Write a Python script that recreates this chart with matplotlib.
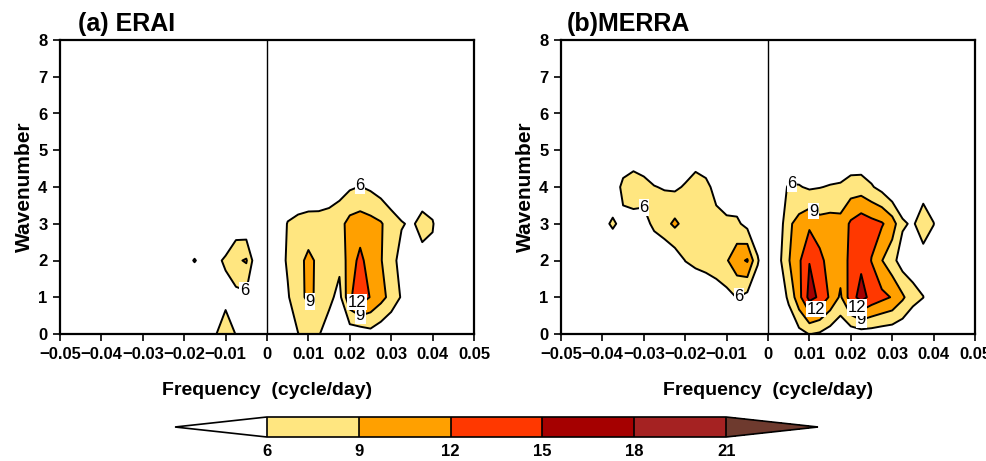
import numpy as np
import matplotlib
matplotlib.use("Agg")
import matplotlib.pyplot as plt
from matplotlib.colors import ListedColormap, BoundaryNorm
from matplotlib.ticker import FuncFormatter, MultipleLocator

plt.rcParams['font.family'] = ['Liberation Sans', 'DejaVu Sans']

# grid of the spectra: frequency (cycle/day) x zonal wavenumber 0..5
freq = np.linspace(-0.05, 0.05, 41)
wavenum = np.arange(6)

levels = [6, 9, 12, 15, 18, 21]
fill_colors = ['#ffe680', '#ffa000', '#ff3800', '#a50000', '#a52222']
under_color = 'white'
over_color = '#6e3a2e'

# ERAI power, one list per wavenumber
erai_w0 = [2, 2, 2, 2, 2, 2, 2, 2, 2, 2, 2, 2, 2.5, 3, 3, 5.8, 7.5, 5.9, 4, 3, 2.5,
           3, 4.5, 5.9, 7.5, 6.2, 4.5, 3.5, 4, 4, 5, 4, 3, 2.5, 2, 2, 2, 2, 2, 2, 2]
erai_w1 = [2.5, 2.5, 2.5, 2.5, 2.5, 2.5, 2.5, 2.5, 2.5, 2.5, 2.5, 2.5, 3, 3, 3.5, 4, 5.2, 5, 5.3, 3, 2.5,
           3.5, 5.6, 8.5, 9.3, 8.7, 6.8, 5.0, 11.5, 14, 11.8, 10, 8, 5.7, 4, 3.5, 3, 2.5, 2.5, 2.5, 2.5]
erai_w2 = [2.5, 2.5, 2.5, 2.5, 2.5, 2.5, 2.5, 2.5, 2.5, 2.5, 2.5, 2.5, 5.0, 6.15, 5.0, 5.5, 6.3, 8.5, 9.3, 3.6, 2.5,
           4, 6.5, 8.2, 9.6, 8.5, 7.0, 6.8, 10.5, 12.8, 10.5, 9.2, 7.0, 5.0, 4, 5.0, 5.0, 3, 2.5, 2.5, 2.5]
erai_w3 = [2.5, 2.5, 2.5, 2.5, 2.5, 2.5, 2.5, 2.5, 2.5, 2.5, 2.5, 2.5, 3, 3, 3, 3.5, 4, 4, 3.5, 3, 2.5,
           3.5, 6.2, 7, 7.5, 7.3, 7.5, 8, 10, 10.5, 10, 9.3, 7.5, 6.2, 5.6, 7.0, 6.3, 3, 2.5, 2.5, 2.5]
erai_w4 = [2.5, 2.5, 2.5, 2.5, 2.5, 2.5, 2.5, 2.5, 2.5, 2.5, 2.5, 2.5, 2.5, 2.5, 2.5, 2.5, 2.5, 2.5, 2.5, 2.5, 2.5,
           2.5, 3, 3, 3, 3.5, 4.0, 4.8, 5.6, 6.1, 5.5, 4.5, 3.5, 3.5, 3.5, 4.0, 3.5, 2.5, 2.5, 2.5, 2.5]
erai_w5 = [2.5, 2.5, 2.5, 2.5, 2.5, 2.5, 2.5, 2.5, 2.5, 2.5, 2.5, 2.5, 2.5, 2.5, 2.5, 2.5, 2.5, 2.5, 2.5, 2.5, 2.5,
           2.5, 2.5, 2.5, 2.5, 2.5, 2.5, 2.5, 2.5, 3, 2.5, 2.5, 2.5, 2.5, 2.5, 2.5, 2.5, 2.5, 2.5, 2.5, 2.5]

# MERRA power (panel b)
merra_w0 = [2.5, 2.5, 2.5, 2.5, 2.5, 2.5, 2.5, 2.5, 2.5, 2.5, 2.5, 2.5, 2.5, 2.5, 2.5, 2.5, 2.5, 3, 2.5, 2.5, 2.5,
            3, 4, 5, 6.1, 5.6, 4.5, 3.5, 4.0, 4.5, 4.5, 4.2, 4, 3.5, 3, 2.5, 2.5, 2.5, 2.5, 2.5, 2.5]
merra_w1 = [3, 3, 3, 3, 3, 3, 3, 3, 3, 3, 3, 3, 3.5, 3.8, 4.0, 4.8, 5.0, 6.1, 5.0, 4.0, 3,
            4, 6.5, 11.0, 16.0, 14.5, 11.5, 8.5, 13.6, 16.2, 14.0, 12.8, 11.8, 9.5, 7.0, 6.05, 3.5, 3, 3, 3, 3]
merra_w2 = [3, 3, 3, 3, 3, 3.5, 3.5, 3.5, 3.8, 4.0, 3.2, 4.1, 6.05, 6.6, 7.0, 7.2, 8.7, 11.0, 12.3, 6.3, 3.0,
            5.0, 8.8, 11.5, 14.9, 13.0, 10.5, 10.5, 12.7, 14.3, 11.9, 9.1, 7.0, 4.5, 4.5, 4.5, 3.5, 3, 3, 3, 3]
merra_w3 = [3, 3, 3, 3, 5.2, 6.4, 5.2, 5.0, 5.2, 6.5, 8.0, 9.6, 8.0, 7.8, 7.5, 7.0, 6.6, 6.6, 5.0, 4.0, 3.0,
            4.0, 8.5, 10.0, 11.4, 10.0, 10.2, 10.0, 12.5, 13.8, 13.0, 12.3, 10.5, 6.4, 5.6, 7.8, 6.1, 3, 3, 3, 3]
merra_w4 = [3, 3, 3, 3, 3, 4.0, 6.8, 7.5, 7.0, 6.1, 5.8, 5.5, 6.3, 7.4, 6.8, 5.0, 4.0, 3.5, 3.0, 3.0, 3.0,
            4.5, 6.3, 6.2, 5.6, 5.9, 6.2, 6.4, 7.4, 7.5, 6.3, 5.0, 3.0, 3.5, 4.0, 4.5, 3.5, 3, 3, 3, 3]
merra_w5 = [3.5, 3.5, 3.5, 3.5, 3.5, 3.5, 3.5, 4.0, 3.5, 3.5, 3.5, 3.5, 3.5, 4.0, 3.5, 3.5, 3.5, 3.5, 3.5, 3.5, 3,
            3, 3, 3, 3, 3, 3, 3, 3, 3, 3, 3, 3, 3, 3, 3, 3, 3, 3, 3, 3]

# contour label anchors: (level, freq, wavenumber)
erai_labels = [(6, 0.0222, 4.05), (6, -0.0062, 1.1), (9, 0.0112, 0.85),
               (9, 0.0228, 0.45), (12, 0.0225, 0.9)]
merra_labels = [(6, -0.028, 3.5), (6, -0.0062, 0.95), (6, 0.0058, 4.1), (9, 0.0112, 3.35),
                (9, 0.0228, 0.35), (12, 0.0112, 0.72), (12, 0.0225, 0.78)]

# title, data rows, labels, axes left edge (px), title x offset (axes fraction)
panels = [("(a) ERAI", [erai_w0, erai_w1, erai_w2, erai_w3, erai_w4, erai_w5], erai_labels, 60, 0.044),
          ("(b)MERRA", [merra_w0, merra_w1, merra_w2, merra_w3, merra_w4, merra_w5], merra_labels, 561, 0.015)]

cmap = ListedColormap(fill_colors)
cmap.set_under(under_color)
cmap.set_over(over_color)
norm = BoundaryNorm(levels, cmap.N)

W, H = 987, 461
fig = plt.figure(figsize=(W / 100, H / 100), dpi=100)


def xfmt(x, pos):
    if abs(x) < 1e-9:
        return '0'
    return ('%.2f' % x).replace('-', '\u2212')


cf = None
for title, rows, labels, left, tx in panels:
    ax = fig.add_axes([left / W, (H - 334) / H, 414 / W, 294 / H])
    z = np.array(rows)
    cf = ax.contourf(freq, wavenum, z, levels=levels, cmap=cmap, norm=norm, extend='both')
    ax.axvline(0, color='k', lw=1.0)

    # one line set per level so each can carry its own labels
    for lev in levels[:-1]:
        if z.max() < lev:
            continue
        cs = ax.contour(freq, wavenum, z, levels=[lev], colors='k', linewidths=1.4)
        pts = [(f, w) for l, f, w in labels if l == lev]
        if pts:
            txts = ax.clabel(cs, manual=pts, inline=False, fmt='%d', fontsize=12)
            for t in txts:
                t.set_rotation(0)
                t.set_bbox(dict(facecolor='white', edgecolor='none', pad=0.5))

    ax.set_xlim(-0.05, 0.05)
    ax.set_ylim(0, 8)
    ax.xaxis.set_major_locator(MultipleLocator(0.01))
    ax.yaxis.set_major_locator(MultipleLocator(1))
    ax.xaxis.set_major_formatter(FuncFormatter(xfmt))
    ax.tick_params(direction='out', length=5, width=1.2, labelsize=12, pad=4)
    for lab in ax.get_xticklabels() + ax.get_yticklabels():
        lab.set_fontweight('bold')
    for sp in ax.spines.values():
        sp.set_linewidth(1.6)
    ax.set_xlabel("Frequency  (cycle/day)", fontsize=14, fontweight='bold', labelpad=15)
    ax.set_ylabel("Wavenumber", fontsize=15, fontweight='bold', labelpad=3)
    ax.text(tx, 1.012, title, transform=ax.transAxes, fontsize=18, fontweight='bold',
            ha='left', va='bottom')

# colorbar axes spans the two pointed ends as well
cax = fig.add_axes([175 / W, (H - 437) / H, 643 / W, 20 / H])
cb = fig.colorbar(cf, cax=cax, orientation='horizontal', extend='both', extendfrac=0.2,
                  ticks=levels, drawedges=True)
cb.outline.set_linewidth(1.2)
cb.dividers.set_linewidth(1.2)
cax.tick_params(length=0, labelsize=12, pad=5)
for lab in cax.get_xticklabels():
    lab.set_fontweight('bold')

fig.savefig("out.png", dpi=100)
